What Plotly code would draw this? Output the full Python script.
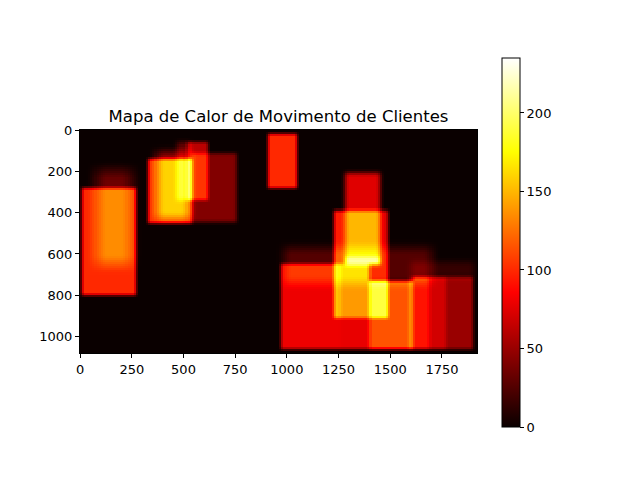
import numpy as np
import plotly.graph_objects as go

# Image size (pixels of the floor plan)
img_width = 1920
img_height = 1080
cell = 10

# Activity rectangles: x0, x1, y0, y1, intensity, edge softness
rect_x0 = [10, 80, 334, 370, 524, 470, 540, 915, 975, 1265, 1233, 1281, 1281, 1265, 1398, 1586, 1611, 1693, 1775, 985, 1600, 1233]
rect_x1 = [275, 250, 540, 530, 620, 530, 758, 1048, 1265, 1400, 1491, 1451, 1451, 1398, 1611, 1611, 1693, 1775, 1905, 1700, 1905, 1281]
rect_y0 = [280, 200, 145, 110, 57, 60, 112, 21, 646, 907, 387, 210, 615, 654, 734, 715, 715, 715, 715, 570, 640, 387]
rect_y1 = [800, 650, 450, 430, 339, 340, 445, 279, 1060, 1060, 907, 654, 650, 907, 1060, 1060, 1060, 1060, 1060, 740, 715, 646]
rect_val = [100, 35, 100, 60, 62, 30, 42, 100, 80, 78, 75, 75, 40, 65, 115, 25, 92, 70, 50, 26, 15, 20]
rect_soft = [0, 80, 0, 60, 0, 30, 10, 0, 0, 0, 0, 25, 10, 0, 0, 0, 0, 0, 0, 60, 40, 0]

colorbar_ticks = [0, 50, 100, 150, 200]
x_ticks = [0, 250, 500, 750, 1000, 1250, 1500, 1750]
y_ticks = [0, 200, 400, 600, 800, 1000]
z_max = 235

xs = np.arange(cell / 2, img_width, cell)
ys = np.arange(cell / 2, img_height, cell)
X, Y = np.meshgrid(xs, ys)


def ramp(v, a, b, w):
    w = max(w, 1e-6)
    lo = np.clip((v - (a - w / 2)) / w, 0, 1)
    hi = np.clip(((b + w / 2) - v) / w, 0, 1)
    return lo * hi


Z = np.zeros_like(X, dtype=float)
for x0, x1, y0, y1, v, s in zip(rect_x0, rect_x1, rect_y0, rect_y1, rect_val, rect_soft):
    if s == 0:
        m = ((X >= x0) & (X < x1) & (Y >= y0) & (Y < y1)).astype(float)
    else:
        m = ramp(X, x0, x1, s) * ramp(Y, y0, y1, s)
    Z += v * m

# light smoothing of the accumulated map (separable kernel)
k = np.array([0.25, 0.5, 0.25])
Z = np.apply_along_axis(lambda r: np.convolve(r, k, mode="same"), 1, Z)
Z = np.apply_along_axis(lambda c: np.convolve(c, k, mode="same"), 0, Z)

hot = [
    [0.0, "rgb(10,0,0)"],
    [0.365079, "rgb(255,0,0)"],
    [0.746032, "rgb(255,255,0)"],
    [1.0, "rgb(255,255,255)"],
]

fig = go.Figure(
    go.Heatmap(
        x=xs - 0.5,
        y=ys - 0.5,
        z=Z,
        zmin=0,
        zmax=z_max,
        colorscale=hot,
        hoverinfo="skip",
        colorbar=dict(
            thickness=18,
            lenmode="pixels",
            len=369,
            x=1.063,
            xanchor="left",
            y=0.4955,
            yanchor="middle",
            xpad=0,
            ypad=0,
            outlinecolor="black",
            outlinewidth=1,
            tickvals=colorbar_ticks,
            ticks="outside",
            ticklen=4,
            tickcolor="black",
            tickfont=dict(family="DejaVu Sans", size=13, color="black"),
        ),
    )
)

axis_common = dict(
    showline=True,
    mirror=True,
    linecolor="black",
    linewidth=1,
    ticks="outside",
    ticklen=4,
    tickcolor="black",
    showgrid=False,
    zeroline=False,
    tickfont=dict(family="DejaVu Sans", size=13, color="black"),
)

fig.update_xaxes(range=[-0.5, img_width - 0.5], tickvals=x_ticks, **axis_common)
fig.update_yaxes(range=[img_height - 0.5, -0.5], tickvals=y_ticks, **axis_common)

fig.update_layout(
    width=640,
    height=480,
    margin=dict(l=72, r=171, t=122, b=135),
    paper_bgcolor="white",
    plot_bgcolor="white",
    title=dict(
        text="Mapa de Calor de Movimento de Clientes",
        x=270.5 / 640,
        xanchor="center",
        y=1 - 108 / 480,
        yanchor="middle",
        font=dict(family="DejaVu Sans", size=16.5, color="black"),
    ),
)

fig.write_html("out.html", config={"displayModeBar": False})
